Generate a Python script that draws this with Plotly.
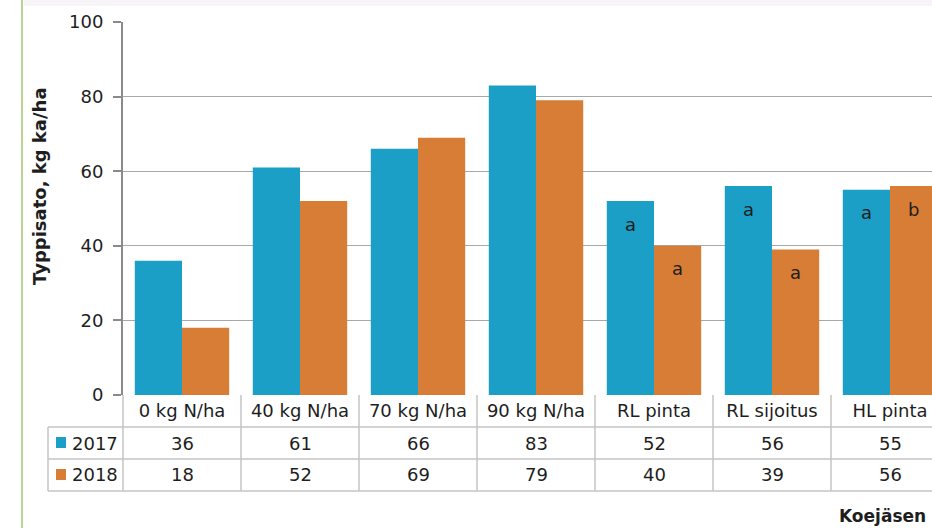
import plotly.graph_objects as go

# Nitrogen yield by treatment, two trial years
categories = ["0 kg N/ha", "40 kg N/ha", "70 kg N/ha", "90 kg N/ha",
              "RL pinta", "RL sijoitus", "HL pinta"]
years = ["2017", "2018"]
yield_2017 = [36, 61, 66, 83, 52, 56, 55]
yield_2018 = [18, 52, 69, 79, 40, 39, 56]
letters_2017 = ["", "", "", "", "a", "a", "a"]
letters_2018 = ["", "", "", "", "a", "a", "b"]
y_ticks = [0, 20, 40, 60, 80, 100]

series = [yield_2017, yield_2018]
letters = [letters_2017, letters_2018]
colors = ["#1C9FC6", "#D77D35"]

W, H = 932, 528
ML, MR, MT, MB = 123, 0, 22, 133
PW, PH = W - ML - MR, H - MT - MB

FONT = "DejaVu Sans"
TXT = "#1e1e1e"
TABLE_LINE = "#c4c4c4"


def px_x(px):
    return (px - ML) / PW


def px_y(py):
    return (H - MB - py) / PH


fig = go.Figure()
for name, vals, col in zip(years, series, colors):
    fig.add_trace(go.Bar(x=categories, y=vals, name=name, marker_color=col,
                         marker_line_width=0, showlegend=False))

n = len(categories)
annotations = []
shapes = []

# significance letters just under the bar tops
offset = 0.2
for k, (vals, lets) in enumerate(zip(series, letters)):
    dx = -offset if k == 0 else offset
    for i, (v, l) in enumerate(zip(vals, lets)):
        if l:
            annotations.append(dict(x=i + dx, y=v, xref="x", yref="y", text=l,
                                     showarrow=False, yshift=-23,
                                     xanchor="center", yanchor="middle",
                                     font=dict(family=FONT, size=18, color=TXT)))

# data table under the axis
row_edges = [395, 427, 459, 491]
row_centers = [(row_edges[r] + row_edges[r + 1]) / 2 for r in range(1, 3)]
table_left = 48

for k, (name, vals, col) in enumerate(zip(years, series, colors)):
    yc = row_centers[k]
    for i, v in enumerate(vals):
        annotations.append(dict(x=i, y=px_y(yc), xref="x", yref="paper",
                                text=str(v), showarrow=False,
                                xanchor="center", yanchor="middle",
                                font=dict(family=FONT, size=18, color=TXT)))
    annotations.append(dict(x=px_x(70), y=px_y(yc), xref="paper", yref="paper",
                            text=name, showarrow=False,
                            xanchor="left", yanchor="middle",
                            font=dict(family=FONT, size=18, color=TXT)))
    shapes.append(dict(type="rect", xref="paper", yref="paper",
                       x0=px_x(56), x1=px_x(66), y0=px_y(yc - 6), y1=px_y(yc + 5),
                       fillcolor=col, line=dict(width=0)))

for py in row_edges[1:]:
    shapes.append(dict(type="line", xref="paper", yref="paper",
                       x0=px_x(table_left), x1=1.0, y0=px_y(py), y1=px_y(py),
                       line=dict(color=TABLE_LINE, width=1.5)))
shapes.append(dict(type="line", xref="paper", yref="paper",
                   x0=px_x(table_left), x1=px_x(table_left),
                   y0=px_y(row_edges[1]), y1=px_y(row_edges[3]),
                   line=dict(color=TABLE_LINE, width=1.5)))
shapes.append(dict(type="line", xref="paper", yref="paper",
                   x0=0, x1=0, y0=px_y(row_edges[0]), y1=px_y(row_edges[3]),
                   line=dict(color=TABLE_LINE, width=1.5)))
for i in range(n - 1):
    shapes.append(dict(type="line", xref="x", yref="paper",
                       x0=i + 0.5, x1=i + 0.5,
                       y0=px_y(row_edges[0]), y1=px_y(row_edges[3]),
                       line=dict(color=TABLE_LINE, width=1.5)))

# frame decorations
shapes.append(dict(type="rect", xref="paper", yref="paper",
                   x0=px_x(24), x1=1.0, y0=px_y(0), y1=px_y(6),
                   fillcolor="#f7f5f7", line=dict(width=0), layer="below"))
shapes.append(dict(type="line", xref="paper", yref="paper",
                   x0=px_x(22), x1=px_x(22), y0=px_y(0), y1=px_y(H),
                   line=dict(color="#b9d590", width=2)))

# axis titles
annotations.append(dict(x=px_x(40), y=px_y(186), xref="paper", yref="paper",
                        text="<b>Typpisato, kg ka/ha</b>", textangle=-90,
                        showarrow=False, xanchor="center", yanchor="middle",
                        font=dict(family=FONT, size=18, color=TXT)))
annotations.append(dict(x=px_x(928), y=px_y(516), xref="paper", yref="paper",
                        text="<b>Koejäsen</b>", showarrow=False,
                        xanchor="right", yanchor="middle",
                        font=dict(family=FONT, size=17, color=TXT)))

fig.update_layout(
    width=W, height=H,
    margin=dict(l=ML, r=MR, t=MT, b=MB, pad=0),
    paper_bgcolor="white", plot_bgcolor="white",
    barmode="group", bargap=0.2, bargroupgap=0,
    font=dict(family=FONT, size=18, color=TXT),
    annotations=annotations, shapes=shapes,
    xaxis=dict(type="category", range=[-0.5, -0.5 + PW / 118.0],
               showgrid=False, showline=False, ticks="", zeroline=False,
               tickfont=dict(family=FONT, size=18, color=TXT),
               ticklabelstandoff=3),
    yaxis=dict(range=[0, 100], tickvals=y_ticks, showgrid=True,
               gridcolor="#a8a8a8", gridwidth=1.3, zeroline=False,
               showline=True, linecolor="#8a8a8a", linewidth=2,
               ticks="outside", ticklen=8, tickcolor="#8a8a8a", tickwidth=1.5,
               ticklabelstandoff=6,
               tickfont=dict(family=FONT, size=18, color=TXT)),
)

fig.write_html("out.html")
